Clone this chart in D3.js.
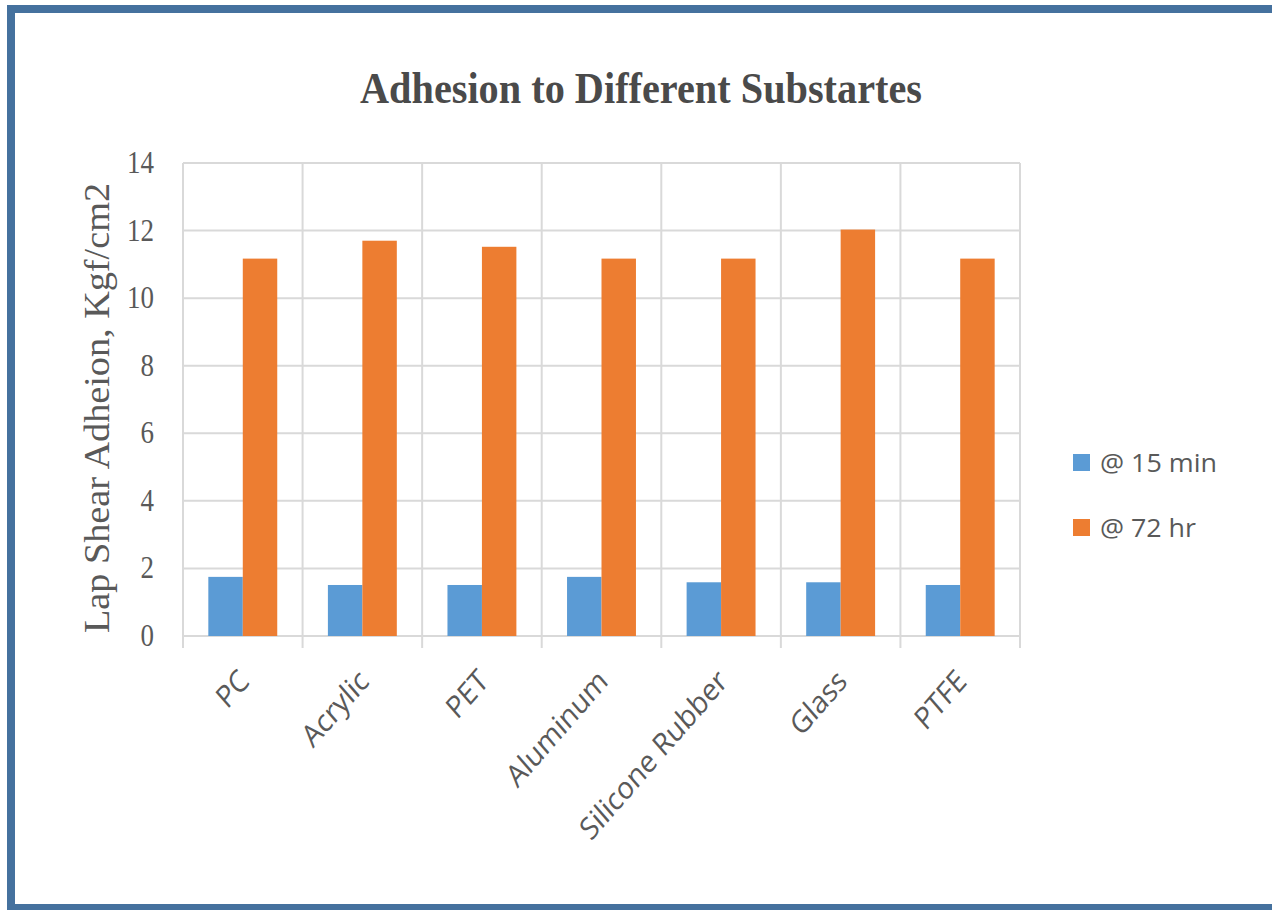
<!DOCTYPE html>
<html>
<head>
<meta charset="utf-8">
<script src="https://cdn.jsdelivr.net/npm/d3@7"></script>
<style>
  html, body { margin: 0; padding: 0; background: #ffffff; }
  svg { display: block; }
</style>
</head>
<body>
<svg id="chart" width="1272" height="910"></svg>
<script>
// Lap shear adhesion per substrate, two cure times (Kgf/cm2)
const categories = ["PC", "Acrylic", "PET", "Aluminum", "Silicone Rubber", "Glass", "PTFE"];
const seriesNames = ["@ 15 min", "@ 72 hr"];
const min15 = [1.75, 1.51, 1.51, 1.75, 1.59, 1.59, 1.51];
const hr72 = [11.17, 11.70, 11.52, 11.17, 11.17, 12.03, 11.17];
const yTicks = [0, 2, 4, 6, 8, 10, 12, 14];
const colors = ["#5b9bd5", "#ed7d31"];

const series = [min15, hr72];
const svg = d3.select("#chart");

// text is drawn slightly condensed horizontally
const SX = 0.87;

// frame
svg.append("rect")
  .attr("x", 11).attr("y", 9)
  .attr("width", 1320).attr("height", 899)
  .attr("fill", "none")
  .attr("stroke", "#45719e")
  .attr("stroke-width", 8);

const plot = { left: 183, right: 1020, top: 163, bottom: 636 };

const x = d3.scaleBand()
  .domain(categories)
  .range([plot.left, plot.right])
  .paddingInner(0).paddingOuter(0);

const xs = d3.scaleBand()
  .domain(d3.range(series.length))
  .range([0, x.bandwidth()])
  .paddingInner(0)
  .paddingOuter(0.735);

const y = d3.scaleLinear()
  .domain([0, 14])
  .range([plot.bottom, plot.top]);

const gridColor = "#d9d9d9";

// horizontal gridlines
svg.append("g")
  .selectAll("line")
  .data(yTicks)
  .join("line")
  .attr("x1", plot.left).attr("x2", plot.right)
  .attr("y1", d => y(d)).attr("y2", d => y(d))
  .attr("stroke", gridColor)
  .attr("stroke-width", 2);

// vertical gridlines at category boundaries, extending below as tick marks
const bounds = categories.map(c => x(c)).concat([plot.right]);
svg.append("g")
  .selectAll("line")
  .data(bounds)
  .join("line")
  .attr("x1", d => d).attr("x2", d => d)
  .attr("y1", plot.top).attr("y2", plot.bottom + 12)
  .attr("stroke", gridColor)
  .attr("stroke-width", 2);

// bars
const groups = svg.append("g")
  .selectAll("g")
  .data(categories)
  .join("g")
  .attr("transform", c => `translate(${x(c)},0)`);

groups.selectAll("rect")
  .data((c, i) => series.map((s, k) => ({ k, v: s[i] })))
  .join("rect")
  .attr("x", d => xs(d.k))
  .attr("width", xs.bandwidth())
  .attr("y", d => y(d.v))
  .attr("height", d => y(0) - y(d.v))
  .attr("fill", d => colors[d.k]);

// y tick labels
svg.append("g")
  .selectAll("text")
  .data(yTicks)
  .join("text")
  .attr("transform", d => `translate(154,${y(d) + 10}) scale(${SX},1)`)
  .attr("text-anchor", "end")
  .attr("font-family", "'Liberation Serif', 'Times New Roman', serif")
  .attr("font-size", 31)
  .attr("fill", "#595959")
  .text(d => d);

// x category labels
svg.append("g")
  .selectAll("text")
  .data(categories)
  .join("text")
  .attr("transform", c => `translate(${x(c) + x.bandwidth() / 2 + 8},683) scale(${SX},1) rotate(-45)`)
  .attr("text-anchor", "end")
  .attr("font-family", "'Open Sans', sans-serif")
  .attr("font-size", 31)
  .attr("fill", "#595959")
  .text(c => c);

// y axis title
svg.append("text")
  .attr("transform", `translate(109,408) scale(${SX},1) rotate(-90)`)
  .attr("text-anchor", "middle")
  .attr("font-family", "'Liberation Serif', 'Times New Roman', serif")
  .attr("font-size", 40)
  .attr("textLength", 450)
  .attr("lengthAdjust", "spacingAndGlyphs")
  .attr("fill", "#595959")
  .text("Lap Shear Adheion, Kgf/cm2");

// chart title
svg.append("text")
  .attr("x", 641).attr("y", 103)
  .attr("text-anchor", "middle")
  .attr("font-family", "'Liberation Serif', 'Times New Roman', serif")
  .attr("font-weight", "bold")
  .attr("font-size", 44)
  .attr("textLength", 562)
  .attr("lengthAdjust", "spacingAndGlyphs")
  .attr("fill", "#4a4a4a")
  .text("Adhesion to Different Substartes");

// legend
const legend = svg.append("g")
  .selectAll("g")
  .data(seriesNames)
  .join("g")
  .attr("transform", (d, i) => `translate(1073,${454 + i * 65})`);

legend.append("rect")
  .attr("width", 17).attr("height", 17)
  .attr("fill", (d, i) => colors[i]);

legend.append("text")
  .attr("x", 27).attr("y", 18)
  .attr("font-family", "'Open Sans', sans-serif")
  .attr("font-size", 26)
  .attr("textLength", (d, i) => i === 0 ? 117 : 96)
  .attr("lengthAdjust", "spacingAndGlyphs")
  .attr("fill", "#595959")
  .text(d => d);
</script>
</body>
</html>
